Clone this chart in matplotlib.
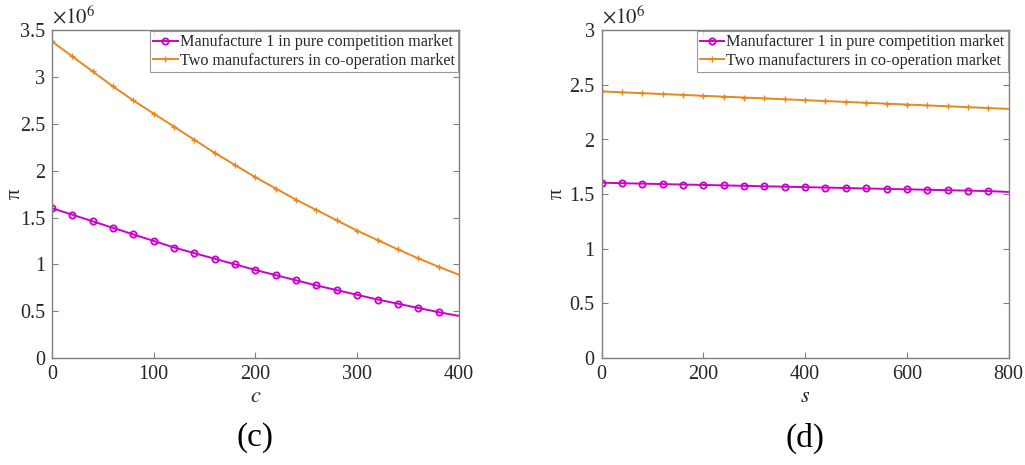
import numpy as np
import matplotlib
matplotlib.use("Agg")
import matplotlib.pyplot as plt
from matplotlib.ticker import FuncFormatter

plt.rcParams['font.family'] = ['Liberation Serif', 'DejaVu Serif']
plt.rcParams['mathtext.fontset'] = 'stix'

# panel (c): profit vs c  (values in 1e6)
c_vals = [0, 20, 40, 60, 80, 100, 120, 140, 160, 180, 200,
          220, 240, 260, 280, 300, 320, 340, 360, 380, 400]
pure_c = [1.60, 1.53, 1.46, 1.39, 1.32, 1.25, 1.18, 1.12, 1.06, 1.00, 0.94,
          0.885, 0.83, 0.775, 0.725, 0.675, 0.625, 0.58, 0.535, 0.49, 0.45]
coop_c = [3.38, 3.22, 3.06, 2.90, 2.75, 2.61, 2.47, 2.33, 2.19, 2.06, 1.93,
          1.81, 1.69, 1.58, 1.47, 1.36, 1.26, 1.16, 1.065, 0.975, 0.89]

# panel (d): profit vs s  (values in 1e6)
s_vals = [0, 40, 80, 120, 160, 200, 240, 280, 320, 360, 400,
          440, 480, 520, 560, 600, 640, 680, 720, 760, 800]
pure_s = [1.605, 1.600, 1.596, 1.592, 1.588, 1.584, 1.580, 1.576, 1.572, 1.568, 1.564,
          1.560, 1.556, 1.552, 1.548, 1.544, 1.540, 1.536, 1.532, 1.528, 1.52]
coop_s = [2.44, 2.432, 2.424, 2.416, 2.408, 2.400, 2.392, 2.384, 2.376, 2.368, 2.360,
          2.352, 2.344, 2.336, 2.328, 2.320, 2.312, 2.304, 2.296, 2.288, 2.28]

purple = '#CC00CC'
orange = '#E8871E'
gray = '#808080'
txt = '#262626'

fig = plt.figure(figsize=(10.25, 4.65), dpi=100)
ax1 = fig.add_axes([0.0507, 0.230, 0.397, 0.705])
ax2 = fig.add_axes([0.587, 0.230, 0.397, 0.705])

panels = [
    (ax1, c_vals, pure_c, coop_c, 'Manufacture 1 in pure competition market',
     '$c$', (0, 400), 3.5, np.arange(0, 401, 100), '(c)', -0.066),
    (ax2, s_vals, pure_s, coop_s, 'Manufacturer 1 in pure competition market',
     '$s$', (0, 800), 3.0, np.arange(0, 801, 200), '(d)', -0.085),
]

for ax, x, p, q, lab1, xl, xlim, ymax, xt, cap, ylx in panels:
    mk = list(range(len(x) - 1))
    ax.plot(x, p, color=purple, lw=1.4, marker='o', ms=4.5, mfc='none',
            mew=1.3, markevery=mk, label=lab1)
    ax.plot(x, q, color=orange, lw=1.4, marker='+', ms=4.5, mew=1.0,
            markevery=mk, label='Two manufacturers in co-operation market')
    ax.set_xlim(*xlim)
    ax.set_ylim(0, ymax)
    ax.set_xticks(xt)
    ax.set_yticks(np.arange(0, ymax + 0.01, 0.5))
    ax.yaxis.set_major_formatter(FuncFormatter(lambda v, pos: '%g' % v))
    ax.tick_params(direction='in', length=4, color=gray, labelsize=14.5,
                   top=True, right=True, pad=5, labelcolor=txt)
    for sp in ax.spines.values():
        sp.set_color(gray)
        sp.set_linewidth(1.0)
    ax.set_xlabel(xl, fontsize=16, color=txt, labelpad=3)
    ax.set_ylabel('π', fontsize=15, color=txt)
    ax.yaxis.set_label_coords(ylx, 0.5)
    ax.text(0.0, 1.005, r'$\times10^6$', transform=ax.transAxes, fontsize=15,
            color=txt, ha='left', va='bottom')
    leg = ax.legend(loc='upper right', fontsize=11.6, frameon=True, fancybox=False,
                    borderpad=0.2, handlelength=1.5, handletextpad=0.15,
                    labelspacing=0.15, borderaxespad=0.05)
    leg.get_frame().set_edgecolor(gray)
    leg.get_frame().set_linewidth(0.8)
    for t in leg.get_texts():
        t.set_color(txt)
    pos = ax.get_position()
    fig.text(pos.x0 + pos.width / 2, 0.058, cap, fontsize=24, ha='center',
             va='center')

fig.savefig('out.png', dpi=100)
